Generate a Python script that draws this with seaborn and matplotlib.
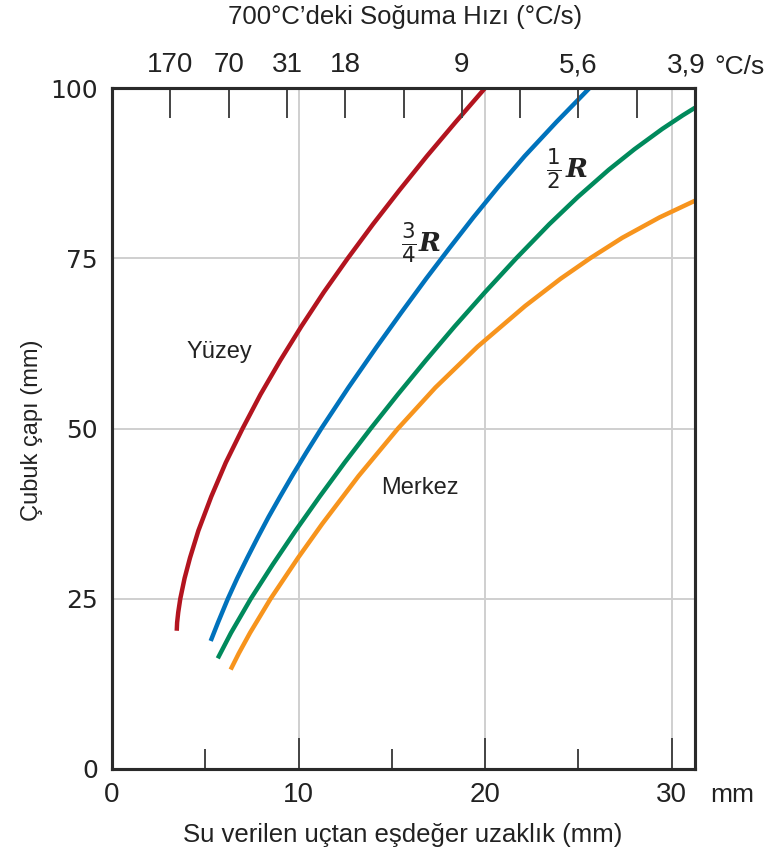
import matplotlib
matplotlib.use("Agg")
import matplotlib.pyplot as plt
from matplotlib.transforms import ScaledTranslation
import pandas as pd
import seaborn as sns

# ---- data ----
surface_x = [3.47, 3.49, 3.55, 3.66, 3.89, 4.18, 4.63, 5.32, 6.10, 7.00, 7.96, 9.02,
             10.15, 11.35, 12.64, 13.99, 15.41, 16.88, 18.42, 20.0]
surface_y = [20.3, 21.5, 23.0, 25.0, 28.0, 31.0, 35.0, 40.0, 45.0, 50.0, 55.0, 60.0,
             65.0, 70.0, 75.0, 80.0, 85.0, 90.0, 95.0, 100.0]

three_quarter_x = [5.29, 5.68, 6.21, 6.71, 7.25, 7.81, 8.39, 9.01, 9.71, 10.42, 11.22,
                   12.67, 14.19, 15.50, 16.84, 18.09, 19.37, 20.71, 22.12, 23.82, 25.60]
three_quarter_y = [18.8, 21.5, 25.0, 28.0, 31.0, 34.0, 37.0, 40.0, 43.3, 46.5, 50.0,
                   56.0, 62.0, 67.0, 72.0, 76.5, 81.0, 85.5, 90.0, 95.0, 100.0]

half_x = [5.67, 6.38, 7.44, 8.61, 9.84, 11.13, 12.47, 13.87, 15.32, 16.82, 18.37,
          19.99, 21.67, 23.44, 24.97, 26.63, 28.00, 29.50, 30.60, 31.25]
half_y = [16.25, 20.0, 25.0, 30.0, 35.0, 40.0, 45.0, 50.0, 55.0, 60.0, 65.0,
          70.0, 75.0, 80.0, 84.0, 88.0, 91.0, 94.0, 96.0, 97.1]

center_x = [6.36, 6.80, 7.40, 8.50, 9.97, 11.27, 13.21, 15.33, 17.33, 19.59, 22.15,
            24.05, 25.63, 27.35, 29.35, 31.25]
center_y = [14.6, 17.0, 20.0, 25.0, 31.0, 36.0, 43.0, 50.0, 56.0, 62.0, 68.0,
            72.0, 75.0, 78.0, 81.0, 83.45]

curve_names = ["Yüzey", "3/4 R", "1/2 R", "Merkez"]
curve_colors = ["#B3141F", "#0072BC", "#008A5C", "#F7941D"]

x_ticks = [0, 10, 20, 30]
x_minor_ticks = [5, 15, 25]
y_ticks = [0, 25, 50, 75, 100]
top_tick_pos = [3.125, 6.25, 9.375, 12.5, 15.625, 18.75, 21.875, 25.0, 28.125, 31.25]
top_tick_labels = ["170", "70", "31", "18", "", "9", "", "5,6", "", "3,9"]

# ---- styling ----
sns.set_style("white")
plt.rcParams["font.family"] = ["Liberation Sans", "DejaVu Sans"]
TXT = "#222222"

fig = plt.figure(figsize=(7.72, 8.57), dpi=100)
ax = fig.add_axes([112 / 772, 1 - 769 / 857, 583 / 772, 681 / 857])

frames = []
for name, xs, ys in zip(curve_names,
                        [surface_x, three_quarter_x, half_x, center_x],
                        [surface_y, three_quarter_y, half_y, center_y]):
    frames.append(pd.DataFrame({"x": xs, "y": ys, "curve": name}))
df = pd.concat(frames, ignore_index=True)

sns.lineplot(data=df, x="x", y="y", hue="curve", palette=dict(zip(curve_names, curve_colors)),
             sort=False, estimator=None, lw=3.2, legend=False, ax=ax, zorder=3)
for ln in ax.get_lines():
    ln.set_solid_capstyle("butt")
    ln.set_solid_joinstyle("round")

ax.set_xlim(0, 31.25)
ax.set_ylim(0, 100)
ax.set_xticks(x_ticks)
ax.set_xticks(x_minor_ticks, minor=True)
ax.set_yticks(y_ticks)
ax.set_xticklabels([str(v) for v in x_ticks], fontsize=20, color=TXT)
ax.set_yticklabels([str(v) for v in y_ticks], fontsize=18, family="DejaVu Sans", color=TXT)
ax.set_xlabel("")
ax.set_ylabel("")

ax.grid(True, which="major", color="#cfcfcf", lw=1.4)
ax.set_axisbelow(True)
ax.tick_params(axis="x", which="major", direction="in", length=22, width=1.4, color="#444444", pad=9)
ax.tick_params(axis="x", which="minor", direction="in", length=14.5, width=1.4, color="#444444")
ax.tick_params(axis="y", which="major", direction="in", length=22, width=1.4, color="#444444", pad=10)

for s in ax.spines.values():
    s.set_linewidth(2.2)
    s.set_color("#2a2a2a")
    s.set_zorder(5)

ax2 = ax.twiny()
ax2.set_xlim(ax.get_xlim())
ax2.set_xticks(top_tick_pos)
ax2.set_xticklabels(top_tick_labels, fontsize=20, color=TXT)
ax2.tick_params(axis="x", direction="in", length=21.5, width=1.4, color="#444444", pad=7)
for s in ax2.spines.values():
    s.set_linewidth(2.2)
    s.set_color("#2a2a2a")
last = ax2.get_xticklabels()[-1]
last.set_transform(last.get_transform() + ScaledTranslation(-6 / 72, 0, fig.dpi_scale_trans))

# curve labels
ax.text(5.76, 61.3, "Yüzey", fontsize=17, ha="center", va="center", color=TXT)
ax.text(16.5, 41.2, "Merkez", fontsize=17, ha="center", va="center", color=TXT)
ax.text(16.35, 77.2, r"$\frac{3}{4}$", fontsize=22, ha="right", va="center", color=TXT)
ax.text(16.46, 77.2, "R", fontsize=19, family="DejaVu Serif", fontweight="bold", fontstyle="italic",
        ha="left", va="center", color=TXT)
ax.text(24.11, 88.06, r"$\frac{1}{2}$", fontsize=22, ha="right", va="center", color=TXT)
ax.text(24.29, 88.06, "R", fontsize=19, family="DejaVu Serif", fontweight="bold", fontstyle="italic",
        ha="left", va="center", color=TXT)

# axis titles and unit marks
fig.text(405 / 772, 1 - 17 / 857, "700°C’deki Soğuma Hızı (°C/s)", fontsize=18.5,
         ha="center", va="center", color=TXT)
fig.text(403 / 772, 1 - 835 / 857, "Su verilen uçtan eşdeğer uzaklık (mm)", fontsize=18.5,
         ha="center", va="center", color=TXT)
fig.text(32 / 772, 1 - 430 / 857, "Çubuk çapı (mm)", fontsize=17, rotation=90,
         ha="center", va="center", color=TXT)
fig.text(732 / 772, 1 - 795 / 857, "mm", fontsize=19, ha="center", va="center", color=TXT)
fig.text(740 / 772, 1 - 67 / 857, "°C/s", fontsize=19, ha="center", va="center", color=TXT)

fig.savefig("out.png", dpi=100)
